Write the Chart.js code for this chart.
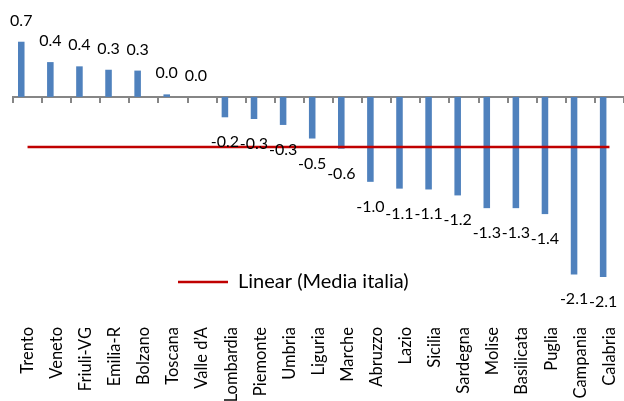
<!DOCTYPE html>
<html>
<head>
<meta charset="utf-8">
<script src="https://cdn.jsdelivr.net/npm/chart.js@4.4.1/dist/chart.umd.min.js"></script>
<style>
html, body { margin: 0; padding: 0; background: #fff; }
</style>
</head>
<body>
<canvas id="grafico" width="624" height="401"></canvas>
<script>
var regioni = ["Trento", "Veneto", "Friuli-VG", "Emilia-R", "Bolzano", "Toscana", "Valle d\u2019A", "Lombardia", "Piemonte", "Umbria", "Liguria", "Marche", "Abruzzo", "Lazio", "Sicilia", "Sardegna", "Molise", "Basilicata", "Puglia", "Campania", "Calabria"];
var scarti = [0.65, 0.41, 0.36, 0.32, 0.31, 0.03, 0.0, -0.24, -0.26, -0.33, -0.49, -0.61, -1.0, -1.08, -1.09, -1.16, -1.31, -1.31, -1.38, -2.09, -2.12];
var mediaItalia = -0.59;
var yMin = -2.58;
var yMax = 1.0;

var font = 'Lato';

// etichette dei valori + legenda dentro il grafico
var etichette = {
	id: 'etichette',
	afterLayout: function(chart){
		var lg = chart.legend;
		lg.left = 178; lg.top = 272;
		lg.right = lg.left + lg.width;
		lg.bottom = lg.top + lg.height;
	},
	afterDatasetsDraw: function(chart){
		var ctx = chart.ctx;
		var meta = chart.getDatasetMeta(1);
		ctx.save();
		ctx.font = '16px ' + font;
		ctx.fillStyle = '#000';
		ctx.textAlign = 'center';
		ctx.textBaseline = 'alphabetic';
		meta.data.forEach(function(bar, i){
			var v = scarti[i];
			var y = v >= 0 ? bar.y - 16 : bar.y + 30;
			ctx.fillText(v.toFixed(1), bar.x, y);
		});
		ctx.restore();
	}
};

var Grafico = new Chart(document.getElementById('grafico').getContext('2d'), {
	data: {
		labels: regioni,
		datasets: [
			{
				type: 'line',
				label: 'Linear (Media italia)',
				data: [{x: regioni[0], y: mediaItalia}, {x: regioni[regioni.length - 1], y: mediaItalia}],
				borderColor: '#C00000',
				borderWidth: 2.5,
				pointRadius: 0,
				fill: false,
				order: 0
			},
			{
				type: 'bar',
				label: 'Scarto',
				data: scarti,
				backgroundColor: '#4F81BD',
				categoryPercentage: 0.866,
				barPercentage: 0.52,
				order: 1
			},
			{
				type: 'bar',
				label: 'Media italia',
				data: [],
				backgroundColor: 'rgba(0,0,0,0)',
				categoryPercentage: 0.866,
				barPercentage: 0.52,
				order: 2
			}
		]
	},
	options: {
		responsive: false,
		animation: false,
		layout: { padding: { left: 13, right: 0, top: 12, bottom: 0 } },
		plugins: {
			tooltip: { enabled: false },
			legend: {
				position: 'chartArea',
				align: 'start',
				labels: {
					filter: function(item){ return item.datasetIndex === 0; },
					usePointStyle: true,
					pointStyle: 'line',
					pointStyleWidth: 50,
					padding: 0,
					color: '#000',
					font: { family: font, size: 20 }
				}
			}
		},
		scales: {
			x: {
				position: 'bottom',
				offset: true,
				grid: { display: false },
				border: { display: false },
				ticks: {
					autoSkip: false,
					minRotation: 90,
					maxRotation: 90,
					padding: 3,
					color: '#000',
					font: { family: font, size: 16.5 }
				},
				afterFit: function(scale){
					scale.height = 85;
					scale.paddingLeft = 0;
					scale.paddingRight = 0;
				}
			},
			x2: {
				type: 'category',
				position: { y: 0 },
				offset: true,
				grid: { offset: true, drawOnChartArea: false, drawTicks: true, tickLength: 5, color: '#868686', lineWidth: 2 },
				border: { display: true, color: '#868686', width: 2 },
				ticks: { display: false }
			},
			y: {
				display: false,
				min: yMin,
				max: yMax
			}
		}
	},
	plugins: [etichette]
});
</script>
</body>
</html>
